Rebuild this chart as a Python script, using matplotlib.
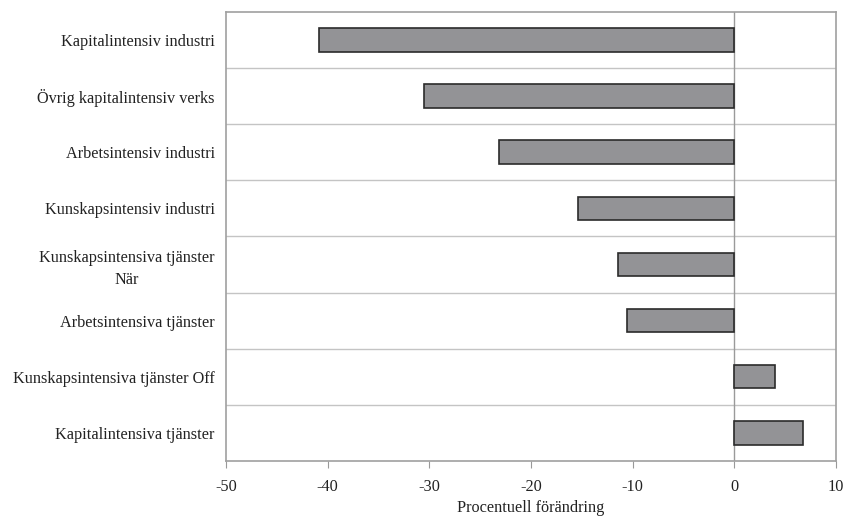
import matplotlib.pyplot as plt
import numpy as np

categories = [
    'Kapitalintensiv industri',
    'Övrig kapitalintensiv verks',
    'Arbetsintensiv industri',
    'Kunskapsintensiv industri',
    'Kunskapsintensiva tjänster\nNär',
    'Arbetsintensiva tjänster',
    'Kunskapsintensiva tjänster Off',
    'Kapitalintensiva tjänster',
]
values = [-40.8, -30.5, -23.1, -15.4, -11.4, -10.5, 4.0, 6.8]
xticks = [-50, -40, -30, -20, -10, 0, 10]

plt.rcParams['font.family'] = ['Liberation Serif', 'DejaVu Serif']
plt.rcParams['font.size'] = 11.7

fig = plt.figure(figsize=(8.46, 5.19), dpi=100)
ax = fig.add_axes([0.267, 0.112, 0.721, 0.865])

y = np.arange(len(categories))
ax.barh(y, values, height=0.42, color='#939396', edgecolor='#2b2b2b',
        linewidth=1.2, zorder=3)

# row separators
for k in range(1, len(categories)):
    ax.axhline(k - 0.5, color='#c4c4c4', linewidth=1.0, zorder=1)
ax.axvline(0, color='#9a9a9a', linewidth=1.0, zorder=2)

ax.set_xlim(-50, 10)
ax.set_ylim(len(categories) - 0.5, -0.5)
ax.set_xticks(xticks)
ax.set_xticklabels([str(t) for t in xticks])
ax.set_yticks(y)
ax.set_yticklabels(categories, multialignment='center', linespacing=1.5)
ax.tick_params(axis='y', length=0, pad=8, colors='#222222')
ax.tick_params(axis='x', direction='out', length=5, color='#999999',
               labelcolor='#222222', pad=8)

for s in ax.spines.values():
    s.set_color('#a0a0a0')
    s.set_linewidth(1.2)

ax.set_xlabel('Procentuell förändring', color='#222222', labelpad=4)

plt.savefig('out.png', dpi=100)
